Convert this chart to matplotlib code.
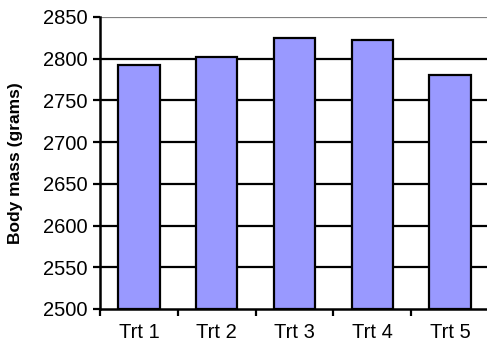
import numpy as np
import matplotlib
matplotlib.use("Agg")
import matplotlib.pyplot as plt

plt.rcParams['font.family'] = ['Liberation Sans', 'DejaVu Sans']

# treatment means
treatments = ["Trt 1", "Trt 2", "Trt 3", "Trt 4", "Trt 5"]
body_mass = [2792, 2802, 2825, 2823, 2781]
y_ticks = [2500, 2550, 2600, 2650, 2700, 2750, 2800, 2850]

fig = plt.figure(figsize=(4.87, 3.45), dpi=100)
ax = fig.add_axes([100/487, 1-309/345, 389/487, 292/345])

x = np.arange(len(treatments))

# horizontal grid, top line in grey
for yv in y_ticks[1:]:
    col = "#808080" if yv == y_ticks[-1] else "black"
    ax.axhline(yv, color=col, lw=1.6, zorder=1)

ax.bar(x, np.array(body_mass) - y_ticks[0], bottom=y_ticks[0], width=0.53,
       color="#9999FF", edgecolor="black", linewidth=1.6, zorder=2)

ax.set_xlim(-0.5, len(treatments) - 0.5)
ax.set_ylim(y_ticks[0], y_ticks[-1])

ax.set_yticks(y_ticks)
ax.set_yticklabels([str(v) for v in y_ticks], fontsize=14.5)
ax.set_xticks(x)
ax.set_xticklabels(treatments, fontsize=14.5)
ax.set_xticks(np.arange(-0.5, len(treatments)), minor=True)
ax.tick_params(axis="x", which="major", length=0, pad=10)
ax.tick_params(axis="x", which="minor", length=5, width=1.6, direction="out")
ax.tick_params(axis="y", length=5, width=1.6, direction="out", pad=4)

for side in ["top", "right"]:
    ax.spines[side].set_visible(False)
for side in ["left", "bottom"]:
    ax.spines[side].set_linewidth(1.8)
    ax.spines[side].set_zorder(3)

fig.text(16/487, 1-163/345, "Body mass (grams)", rotation=90, fontsize=12.5,
         fontweight="bold", ha="center", va="center")

fig.savefig("out.png", dpi=100)
